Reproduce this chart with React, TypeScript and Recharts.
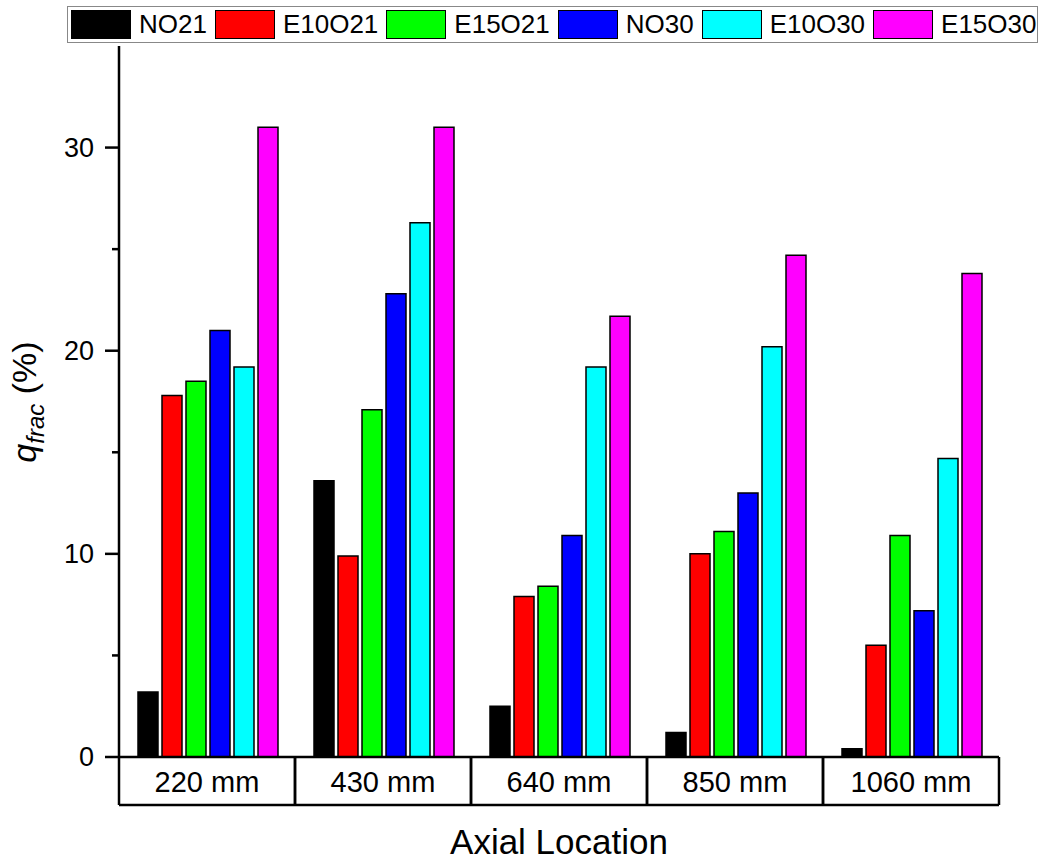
import React from "react"
import { BarChart, Bar, XAxis, YAxis, Label } from "recharts"

const categories = ["220 mm", "430 mm", "640 mm", "850 mm", "1060 mm"]
const seriesNames = ["NO21", "E10O21", "E15O21", "NO30", "E10O30", "E15O30"]
const seriesColors = ["#000000", "#ff0000", "#00ff00", "#0000ff", "#00ffff", "#ff00ff"]

const NO21 = [3.2, 13.6, 2.5, 1.2, 0.4]
const E10O21 = [17.8, 9.9, 7.9, 10.0, 5.5]
const E15O21 = [18.5, 17.1, 8.4, 11.1, 10.9]
const NO30 = [21.0, 22.8, 10.9, 13.0, 7.2]
const E10O30 = [19.2, 26.3, 19.2, 20.2, 14.7]
const E15O30 = [31.0, 31.0, 21.7, 24.7, 23.8]

const yTicks = [0, 5, 10, 15, 20, 25, 30]

const seriesValues = [NO21, E10O21, E15O21, NO30, E10O30, E15O30]
const data = categories.map((cat, i) => {
  const row: Record<string, any> = { cat }
  seriesNames.forEach((name, s) => {
    row[name] = seriesValues[s][i]
  })
  return row
})

const FONT = '"Liberation Sans", Arial, sans-serif'
const W = 1040
const H = 860
const PLOT_LEFT = 119
const PLOT_RIGHT = 999
const PLOT_TOP = 46
const PLOT_BOTTOM = 757
const TABLE_H = 48
const BAND = (PLOT_RIGHT - PLOT_LEFT) / categories.length

function YTick(props: any) {
  const { x, y, payload } = props
  const major = payload.value % 10 === 0
  return (
    <g>
      <line x1={x - (major ? 14 : 7)} x2={x} y1={y} y2={y} stroke="#000" strokeWidth={2.5} />
      {major && (
        <text x={x - 25} y={y} textAnchor="end" dominantBaseline="central" fontSize={27} fontFamily={FONT} fill="#000">
          {payload.value}
        </text>
      )}
    </g>
  )
}

function CatTick(props: any) {
  const { x, payload } = props
  const y = PLOT_BOTTOM
  const l = x - BAND / 2
  const r = x + BAND / 2
  return (
    <g>
      <line x1={l} x2={l} y1={y} y2={y + TABLE_H} stroke="#000" strokeWidth={2.5} />
      <line x1={r} x2={r} y1={y} y2={y + TABLE_H} stroke="#000" strokeWidth={2.5} />
      <line x1={l} x2={r} y1={y + TABLE_H} y2={y + TABLE_H} stroke="#000" strokeWidth={2.5} />
      <text x={x} y={y + TABLE_H / 2 + 1} textAnchor="middle" dominantBaseline="central" fontSize={29} fontFamily={FONT} fill="#000">
        {payload.value}
      </text>
    </g>
  )
}

function YTitle() {
  const cx = 36
  const cy = 402
  return (
    <text
      x={cx}
      y={cy}
      transform={`rotate(-90, ${cx}, ${cy})`}
      textAnchor="middle"
      fontFamily={FONT}
      fontSize={34}
      fill="#000"
    >
      <tspan fontStyle="italic">q</tspan>
      <tspan fontStyle="italic" fontSize={24} dy={8}>frac</tspan>
      <tspan dy={-8}> (%)</tspan>
    </text>
  )
}

function XTitle() {
  return (
    <text x={(PLOT_LEFT + PLOT_RIGHT) / 2} y={854} textAnchor="middle" fontFamily={FONT} fontSize={35} fill="#000">
      Axial Location
    </text>
  )
}

function LegendBox() {
  return (
    <div
      style={{
        position: "absolute",
        left: 67,
        top: 6,
        width: 966,
        height: 35,
        border: "1px solid #888",
        background: "#fff",
        display: "flex",
        alignItems: "center",
        paddingLeft: 3,
        boxSizing: "content-box",
        fontFamily: FONT,
        fontSize: 26,
        color: "#000",
        whiteSpace: "nowrap",
      }}
    >
      {seriesNames.map((name, i) => (
        <div key={name} style={{ display: "flex", alignItems: "center", marginRight: 8 }}>
          <div
            style={{
              width: 58,
              height: 27,
              background: seriesColors[i],
              border: "1px solid #000",
            }}
          />
          <span style={{ marginLeft: 8, lineHeight: "29px" }}>{name}</span>
        </div>
      ))}
    </div>
  )
}

export default function App() {
  return (
    <div style={{ position: "absolute", left: 0, top: 0, width: W, height: H, background: "#fff" }}>
      <BarChart
        width={W}
        height={H}
        data={data}
        margin={{ top: PLOT_TOP, right: W - PLOT_RIGHT, left: PLOT_LEFT - 60, bottom: H - PLOT_BOTTOM - TABLE_H }}
        barCategoryGap={19}
        barGap={4}
      >
        <XAxis
          dataKey="cat"
          height={TABLE_H}
          tickSize={0}
          tickMargin={0}
          tickLine={false}
          axisLine={{ stroke: "#000", strokeWidth: 2.5 }}
          tick={<CatTick />}
          interval={0}
        >
          <Label content={<XTitle />} />
        </XAxis>
        <XAxis
          xAxisId="top"
          dataKey="cat"
          orientation="top"
          height={0}
          tick={false}
          tickLine={false}
          axisLine={{ stroke: "#000", strokeWidth: 2.5 }}
        />
        <YAxis
          width={60}
          domain={[0, 35]}
          ticks={yTicks}
          interval={0}
          tickSize={0}
          tickMargin={0}
          tickLine={false}
          axisLine={{ stroke: "#000", strokeWidth: 2.5 }}
          tick={<YTick />}
        >
          <Label content={<YTitle />} />
        </YAxis>
        <YAxis
          yAxisId="right"
          orientation="right"
          width={0}
          domain={[0, 35]}
          tick={false}
          tickLine={false}
          axisLine={{ stroke: "#000", strokeWidth: 2.5 }}
        />
        {seriesNames.map((name, i) => (
          <Bar
            key={name}
            dataKey={name}
            fill={seriesColors[i]}
            stroke="#000"
            strokeWidth={1.5}
            isAnimationActive={false}
          />
        ))}
      </BarChart>
      <LegendBox />
    </div>
  )
}
